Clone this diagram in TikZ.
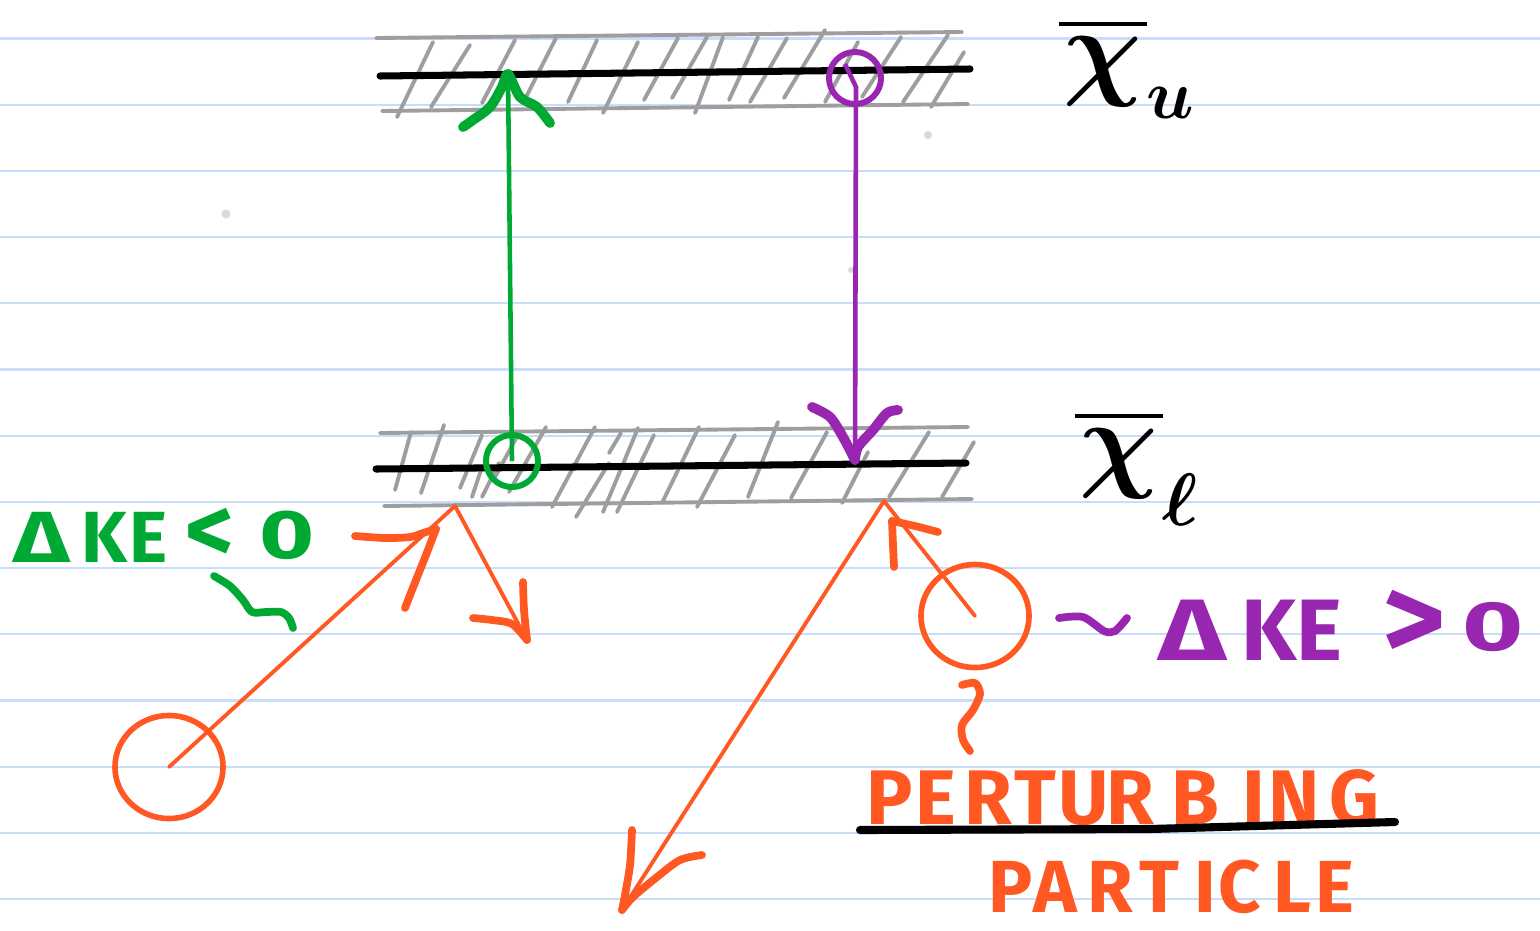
\documentclass[tikz,border=0pt]{standalone}
\usepackage{fontspec}
\usepackage{amsmath}
\usepackage{graphicx}
\newfontfamily\handfont{Fira Sans}
\usetikzlibrary{calc,shapes.geometric}
\definecolor{paperblue}{RGB}{200,221,250}
\definecolor{hatchgray}{RGB}{158,158,158}
\definecolor{gr}{RGB}{0,168,52}
\definecolor{pu}{RGB}{152,38,176}
\definecolor{orng}{RGB}{255,88,34}
\definecolor{dotgray}{RGB}{218,218,218}
% one glyph centred on the current point, no width
\newcommand\hgl[1]{\makebox[0pt]{#1}}
\newcommand\wideD{\scalebox{1.3}[1]{Δ}}
\newcommand\bigchi{\hbox{\scalebox{1.25}{$\boldsymbol{\chi}$}}}
\begin{document}
\begin{tikzpicture}[x=0.01cm,y=-0.01cm,
  paper/.style={draw=paperblue, line width=0.6pt},
  hatch/.style={draw=hatchgray, line width=1.1pt, line cap=round},
  edge/.style={draw=hatchgray, line width=1.1pt, line cap=round},
  level/.style={draw=black, line width=2pt, line cap=round},
  gshaft/.style={draw=gr, line width=1.3pt},
  ghead/.style={draw=gr, line width=2.8pt, line cap=round, line join=round},
  pshaft/.style={draw=pu, line width=1.3pt},
  phead/.style={draw=pu, line width=2.8pt, line cap=round, line join=round},
  oline/.style={draw=orng, line width=1.1pt, line cap=round},
  ohead/.style={draw=orng, line width=2.2pt, line cap=round, line join=round},
  gring/.style={circle, draw=gr, line width=1.7pt, inner sep=0pt, minimum size=0.52cm},
  pring/.style={circle, draw=pu, line width=1.7pt, inner sep=0pt, minimum size=0.52cm},
  particle/.style={ellipse, draw=orng, line width=1.6pt, inner sep=0pt, minimum width=1.08cm, minimum height=1.03cm},
  lab/.style={inner sep=0pt, anchor=base west},
  levlab/.style={inner sep=0pt, anchor=base west, font=\fontsize{52}{58}\selectfont},
  squig/.style={line width=2.2pt, line cap=round, line join=round}
]
\useasboundingbox (0,0) rectangle (1540,930);
\fill[white] (0,0) rectangle (1540,930);
% ruled paper
\foreach \k in {0,...,13} \draw[paper] (0,{38.5+66.2*\k}) -- (1540,{38.5+66.2*\k});
% faint dots
\fill[dotgray] (226,214) circle[radius=0.045cm];
\fill[dotgray] (928,135) circle[radius=0.04cm];
\fill[dotgray] (851,270) circle[radius=0.03cm];

% ---------- upper level band ----------
\foreach \a/\b/\c/\d in {397/117/433/42, 431/107/470/45, 482/103/515/40, 523/103/556/38,
  568/102/597/40, 603/113/638/42, 644/100/678/38, 672/98/707/37, 695/113/723/37,
  729/100/758/37, 750/102/787/38, 784/98/825/30, 825/102/858/42, 862/97/901/37,
  903/102/948/35, 931/107/964/52}
  \draw[hatch] (\a,\b) -- (\c,\d);
\draw[edge] (376,38) -- (962,32);
\draw[edge] (382,111) -- (968,104);
\draw[level] (380,76) -- (970,69);

% ---------- lower level band ----------
\foreach \a/\b/\c/\d in {395/490/411/432, 421/493/444/425, 460/488/482/435, 472/497/482/467,
  482/497/499/463, 495/477/519/433, 509/492/546/427, 552/507/595/427, 576/517/609/463,
  603/512/638/428, 617/512/654/435, 609/453/621/433, 662/503/699/427, 697/507/735/435,
  748/497/778/422, 791/498/827/432, 842/503/868/452, 889/497/929/432, 942/497/974/442}
  \draw[hatch] (\a,\b) -- (\c,\d);
\draw[edge] (380,433) -- (968,427);
\draw[edge] (384,506) -- (972,499);
\draw[level] (376,469) -- (966,463);

% ---------- level labels ----------
\node[levlab] (xu) at (1058,85) {$\overline{\mkern1mu\bigchi\mkern1mu}$\raisebox{-3.3mm}{\scalebox{0.8}{$\scriptscriptstyle\boldsymbol{u}$}}};
\node[levlab] (xl) at (1074,477) {$\overline{\mkern1mu\bigchi\mkern1mu}$\raisebox{-4.8mm}{\scalebox{0.85}{$\scriptscriptstyle\boldsymbol{\ell}$}}};

% ---------- green transition (up) ----------
\node[gring] (gc) at (512,461) {};
\coordinate (gtip) at (508,74);
\draw[gshaft] (gc.center) -- (gtip);
\draw[ghead, shift={(gtip)}] plot[smooth] coordinates {(-45,53) (-35,46) (-18,33) (-6,13) (0,0) (12,23) (29,33) (42,49)};

% ---------- purple transition (down) ----------
\node[pring] (pc) at (855,78) {};
\coordinate (ptip) at (855,460);
\draw[pshaft] ($(pc.center)+(-10,-14)$) -- ($(pc.center)+(1,9)$) -- (ptip);
\draw[phead, shift={(ptip)}] plot[smooth] coordinates {(-43,-53) (-25,-43) (-12,-23) (0,0)};
\draw[phead, shift={(ptip)}] plot[smooth] coordinates {(43,-50) (32,-47) (18,-30) (3,-13) (0,0)};

% ---------- left perturbing particle (loses energy) ----------
\node[particle] (op1) at (169,767) {};
\coordinate (hit1) at (455,506);
\coordinate (rtip1) at (527,640);
\draw[oline] (op1.center) -- (hit1);
\draw[oline] (hit1) -- (rtip1);
\draw[ohead] plot[smooth] coordinates {(355,536) (385,538) (410,537) (423,533) (436,529)};
\draw[ohead] plot[smooth] coordinates {(436,529) (426,555) (414,585) (405,608)};
\draw[ohead, shift={(rtip1)}] plot[smooth] coordinates {(-54,-22) (-35,-20) (-15,-16) (0,0)};
\draw[ohead, shift={(rtip1)}] plot[smooth] coordinates {(-4,-58) (-3,-30) (0,0)};

% ---------- right perturbing particle (gains energy) ----------
\node[particle] (op2) at (975,616) {};
\coordinate (hit2) at (884,501);
\coordinate (otip2) at (622,910);
\draw[oline] (op2.center) -- (hit2);
\draw[oline] (hit2) -- (otip2);
\draw[ohead] plot[smooth] coordinates {(894,567) (893,545) (892,521)};
\draw[ohead] plot[smooth] coordinates {(892,521) (915,526) (938,532)};
\draw[ohead, shift={(otip2)}] plot[smooth] coordinates {(10,-80) (8,-45) (3,-15) (0,0)};
\draw[ohead, shift={(otip2)}] plot[smooth] coordinates {(80,-55) (58,-50) (35,-33) (11,-13) (0,0)};

% ---------- green label ----------
\node[lab, text=gr, font=\handfont\bfseries\fontsize{20.6}{24}\selectfont] (gl) at (41,562)
  {\hgl{\wideD}\hspace{6.3mm}\hgl{K}\hspace{4.4mm}\hgl{E}\hspace{6.1mm}\hgl{\scalebox{1.3}{<}}\hspace{7.7mm}\hgl{\raisebox{0.4mm}{\scalebox{1.3}[0.95]{0}}}};
\draw[squig, gr] plot[smooth] coordinates {(214,576) (230,586) (243,600) (252,612) (266,612) (281,612) (289,618) (293,628)};

% ---------- purple label ----------
\draw[squig, pu] plot[smooth] coordinates {(1059,618) (1083,617) (1104,631) (1115,631) (1127,618)};
\node[lab, text=pu, font=\handfont\bfseries\fontsize{24.8}{30}\selectfont] (pl) at (1192,660)
  {\hgl{\wideD}\hspace{7.6mm}\hgl{K}\hspace{5.1mm}\hgl{E}\hspace{9.4mm}\hgl{\scalebox{1.4}{>}}\hspace{7.9mm}\hgl{\raisebox{1mm}{\scalebox{1.2}[0.8]{0}}}};

% ---------- perturbing particle label ----------
\draw[squig, orng] plot[smooth] coordinates {(962,685) (975,683) (980,694) (973,710) (962,725) (963,740) (970,751)};
\node[lab, text=orng, font=\handfont\bfseries\fontsize{22}{26}\selectfont] (pert) at (889,824)
  {\hgl{P}\hspace{4.6mm}\hgl{E}\hspace{5.3mm}\hgl{R}\hspace{4.7mm}\hgl{T}\hspace{4.8mm}\hgl{U}\hspace{4.6mm}\hgl{R}\hspace{6.5mm}\hgl{B}\hspace{5.9mm}\hgl{I}\hspace{4.0mm}\hgl{N}\hspace{6.0mm}\hgl{G}};
\draw[line width=2.3pt, line cap=round] (860,830) -- (1150,829) -- (1395,822);
\node[lab, text=orng, font=\handfont\bfseries\fontsize{21}{26}\selectfont] (part) at (1010,912)
  {\hgl{P}\hspace{4.5mm}\hgl{A}\hspace{5.5mm}\hgl{R}\hspace{4.9mm}\hgl{T}\hspace{4.6mm}\hgl{I}\hspace{3.4mm}\hgl{C}\hspace{5.3mm}\hgl{L}\hspace{4.2mm}\hgl{E}};
\end{tikzpicture}
\end{document}
